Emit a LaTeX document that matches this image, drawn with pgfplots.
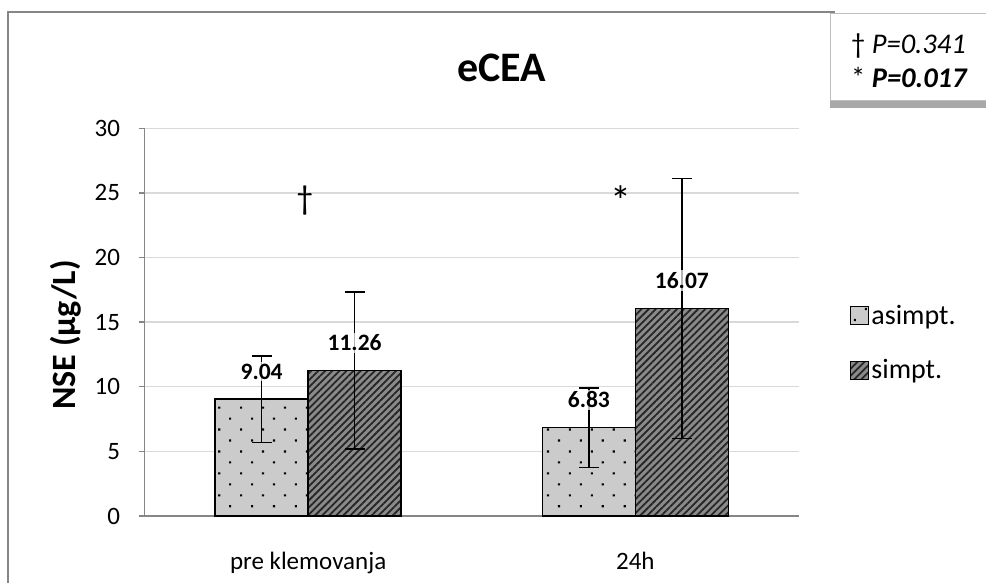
\documentclass[border=0pt]{standalone}
\usepackage{fontspec}
\setmainfont{Carlito}
\usepackage{pgfplots}
\pgfplotsset{compat=1.18}
\usepackage{pgfplotstable}
\usetikzlibrary{patterns.meta,shadows}
\definecolor{lgray}{HTML}{CBCBCB}
\definecolor{dgray}{HTML}{8A8A8A}
\definecolor{axgray}{HTML}{868686}
\definecolor{gridc}{HTML}{D9D9D9}
\pgfplotstableread{
cat asim asimerr sim simerr
0 9.04 3.35 11.26 6.08
1 6.83 3.07 16.07 10.06
}\data
\begin{document}
\begin{tikzpicture}[x=1pt,y=1pt]
\useasboundingbox (0,0) rectangle (986,583);
\draw[axgray, line width=1.2pt] (8,-2) -- (8,571) -- (835,571);
\begin{axis}[at={(144.5pt,67pt)}, anchor=south west, scale only axis,
  width=654.5pt, height=387.7pt,
  ybar=0pt, bar width=93pt,
  xmin=-0.5, xmax=1.5, ymin=0, ymax=30, ytick={0,5,...,30},
  xtick={0,1}, xticklabels={pre klemovanja,24h},
  axis x line=bottom, axis y line=left,
  axis line style={-, axgray, line width=1.3pt},
  ymajorgrids, major grid style={gridc, line width=1.3pt},
  tick align=outside, major tick length=6pt,
  ytick style={axgray, line width=1.3pt}, xtick style={draw=none},
  ticklabel style={font=\fontsize{25}{30}\selectfont},
  /pgf/number format/assume math mode=true,
  xticklabel style={yshift=-27pt},
  yticklabel style={xshift=-15pt},
  clip=false,
  legend style={at={(1,0.55)}, anchor=north west, xshift=51pt, draw=none, fill=none,
    inner sep=0pt, row sep=30pt, font=\fontsize{28}{33}\selectfont,
    /tikz/every even column/.append style={column sep=2pt}},
  legend cell align=left,
  legend image code/.code={\draw[#1, line width=1.2pt] (0pt,-9pt) rectangle (18pt,9pt);},
  nodes near coords, point meta=explicit symbolic,
  nodes near coords style={font=\bfseries\fontsize{23.5}{28}\selectfont, fill=white, fill opacity=0.7,
    text opacity=1, inner sep=2pt, anchor=south, yshift=17pt},
]
\addplot[draw=black, line width=1.5pt, fill=lgray,
  postaction={pattern={Dots[distance=15.5pt, radius=1.5pt, angle=45]}, pattern color=black},
  error bars/.cd, y dir=both, y explicit,
  error bar style={line width=1.5pt, black},
  error mark options={rotate=90, mark size=10pt, line width=1.5pt, black}]
  table[x=cat, y=asim, y error=asimerr, meta=asim]{\data};
\addlegendentry{asimpt.}
\addplot[draw=black, line width=1.5pt, fill=dgray,
  postaction={pattern={Lines[angle=45, distance=5pt, line width=1.8pt]}, pattern color=black!85},
  error bars/.cd, y dir=both, y explicit,
  error bar style={line width=1.5pt, black},
  error mark options={rotate=90, mark size=10pt, line width=1.5pt, black}]
  table[x=cat, y=sim, y error=simerr, meta=sim]{\data};
\addlegendentry{simpt.}
\node[font=\fontsize{34}{40}\selectfont] at (axis cs:-0.01,24.4) {†};
\node[font=\fontsize{42}{48}\selectfont] at (axis cs:0.955,24.4) {*};
\end{axis}
\node[anchor=base, font=\bfseries\fontsize{42}{48}\selectfont] at (502,501.3) {eCEA};
\node[rotate=90, font=\bfseries\fontsize{34}{40}\selectfont] at (66,248) {NSE (μg/L)};
\draw[gridc!70!gray, fill=white, drop shadow={shadow xshift=0pt, shadow yshift=-8pt, opacity=0.85, fill=gray!80}]
  (830,483) rectangle (992,570);
\node[anchor=base west, inner sep=0pt, font=\fontsize{28.5}{34}\selectfont] at (851,529) {† \textit{P=0.341}};
\node[anchor=base west, inner sep=0pt, font=\fontsize{28.5}{34}\selectfont] at (851,495) {* \textbf{\textit{P=0.017}}};
\end{tikzpicture}
\end{document}
